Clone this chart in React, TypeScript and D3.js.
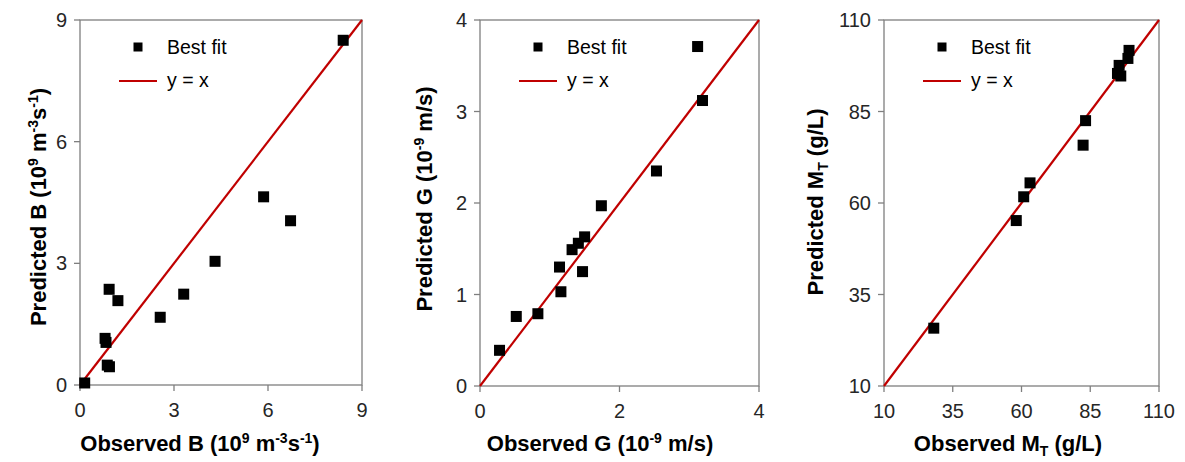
import React from "react";
import * as d3 from "d3";

// ---- Data ----
const bObserved = [0.15, 8.4, 0.93, 1.21, 0.8, 0.83, 0.87, 0.94, 2.56, 3.31, 4.31, 5.86, 6.72];
const bPredicted = [0.05, 8.5, 2.36, 2.08, 1.15, 1.05, 0.49, 0.45, 1.67, 2.24, 3.05, 4.64, 4.05];
const bTicks = [0, 3, 6, 9];

const gObserved = [0.28, 0.52, 0.83, 1.14, 1.16, 1.32, 1.41, 1.5, 1.47, 1.74, 2.53, 3.19, 3.12];
const gPredicted = [0.39, 0.76, 0.79, 1.3, 1.03, 1.49, 1.56, 1.63, 1.25, 1.97, 2.35, 3.12, 3.71];
const gXTicks = [0, 2, 4];
const gYTicks = [0, 1, 2, 3, 4];

const mObserved = [28.1, 58.1, 60.8, 63.1, 82.4, 83.3, 95.5, 94.9, 96.1, 99.1, 98.7];
const mPredicted = [25.8, 55.2, 61.7, 65.5, 75.8, 82.5, 97.6, 95.4, 94.7, 101.7, 99.5];
const mTicks = [10, 35, 60, 85, 110];

const legendLabels = ["Best fit", "y = x"];

type Part = { t: string; s?: "sup" | "sub" };

const panels = [
  {
    left: 80, right: 362, top: 20, bottom: 385,
    domain: [0, 9], xTicks: bTicks, yTicks: bTicks,
    xs: bObserved, ys: bPredicted,
    xTitle: [{ t: "Observed B (10" }, { t: "9", s: "sup" }, { t: " m" }, { t: "-3", s: "sup" }, { t: "s" }, { t: "-1", s: "sup" }, { t: ")" }] as Part[],
    yTitle: [{ t: "Predicted B (10" }, { t: "9", s: "sup" }, { t: " m" }, { t: "-3", s: "sup" }, { t: "s" }, { t: "-1", s: "sup" }, { t: ")" }] as Part[],
    xTitleX: 200, yTitleX: 46, yTitleY: 207,
  },
  {
    left: 480, right: 759, top: 20, bottom: 386,
    domain: [0, 4], xTicks: gXTicks, yTicks: gYTicks,
    xs: gObserved, ys: gPredicted,
    xTitle: [{ t: "Observed G (10" }, { t: "-9", s: "sup" }, { t: " m/s)" }] as Part[],
    yTitle: [{ t: "Predicted G (10" }, { t: "-9", s: "sup" }, { t: " m/s)" }] as Part[],
    xTitleX: 600, yTitleX: 432, yTitleY: 199,
  },
  {
    left: 884, right: 1159, top: 20, bottom: 386,
    domain: [10, 110], xTicks: mTicks, yTicks: mTicks,
    xs: mObserved, ys: mPredicted,
    xTitle: [{ t: "Observed M" }, { t: "T", s: "sub" }, { t: " (g/L)" }] as Part[],
    yTitle: [{ t: "Predicted M" }, { t: "T", s: "sub" }, { t: " (g/L)" }] as Part[],
    xTitleX: 1008, yTitleX: 823, yTitleY: 202,
  },
];

const FONT = "'Liberation Sans', Arial, sans-serif";
const AXIS = "#7f7f7f";
const RED = "#c00000";

function renderParts(parts: Part[]) {
  const out: React.ReactNode[] = [];
  let shift = 0;
  parts.forEach((p, i) => {
    let target = 0;
    if (p.s === "sup") target = -8;
    if (p.s === "sub") target = 5;
    const dy = target - shift;
    shift = target;
    out.push(
      <tspan key={i} dy={dy} fontSize={p.s ? 14 : undefined}>
        {p.t}
      </tspan>
    );
  });
  return out;
}

function Panel({ p }: { p: (typeof panels)[number] }) {
  const x = d3.scaleLinear().domain(p.domain).range([p.left, p.right]);
  const y = d3.scaleLinear().domain(p.domain).range([p.bottom, p.top]);
  const line = d3.line<number>().x((d) => x(d)).y((d) => y(d));
  const sq = 11;
  return (
    <g>
      <rect x={p.left} y={p.top} width={p.right - p.left} height={p.bottom - p.top} fill="none" stroke={AXIS} strokeWidth={1.3} />
      {p.xTicks.map((t) => (
        <g key={"x" + t}>
          <line x1={x(t)} x2={x(t)} y1={p.bottom} y2={p.bottom + 6} stroke={AXIS} strokeWidth={1.3} />
          <text x={x(t)} y={p.bottom + 32} textAnchor="middle" fontSize={20} fill="#262626" fontFamily={FONT}>{t}</text>
        </g>
      ))}
      {p.yTicks.map((t) => (
        <g key={"y" + t}>
          <line x1={p.left - 6} x2={p.left} y1={y(t)} y2={y(t)} stroke={AXIS} strokeWidth={1.3} />
          <text x={p.left - 13} y={y(t)} dy="0.35em" textAnchor="end" fontSize={20} fill="#262626" fontFamily={FONT}>{t}</text>
        </g>
      ))}
      <path d={line(p.domain) || ""} stroke={RED} strokeWidth={2.2} fill="none" />
      {p.xs.map((v, i) => (
        <rect key={i} x={x(v) - sq / 2} y={y(p.ys[i]) - sq / 2} width={sq} height={sq} fill="#000" />
      ))}
      {/* legend */}
      <rect x={p.left + 58 - 4.5} y={47 - 4.5} width={9} height={9} fill="#000" />
      <text x={p.left + 87} y={47} dy="0.35em" fontSize={19.5} fill="#000" fontFamily={FONT}>{legendLabels[0]}</text>
      <line x1={p.left + 39} x2={p.left + 77} y1={81} y2={81} stroke={RED} strokeWidth={2.2} />
      <text x={p.left + 87} y={81} dy="0.3em" fontSize={19.5} fill="#000" fontFamily={FONT}>{legendLabels[1]}</text>
      {/* titles */}
      <text x={p.xTitleX} y={451} textAnchor="middle" fontSize={22} fontWeight="bold" fill="#000" fontFamily={FONT}>
        {renderParts(p.xTitle)}
      </text>
      <text transform={`translate(${p.yTitleX},${p.yTitleY}) rotate(-90)`} textAnchor="middle" fontSize={22} fontWeight="bold" fill="#000" fontFamily={FONT}>
        {renderParts(p.yTitle)}
      </text>
    </g>
  );
}

export default function App() {
  return (
    <svg width={1185} height={462} style={{ position: "absolute", left: 0, top: 0, background: "#fff" }}>
      <rect width={1185} height={462} fill="#fff" />
      {panels.map((p, i) => (
        <Panel key={i} p={p} />
      ))}
    </svg>
  );
}
